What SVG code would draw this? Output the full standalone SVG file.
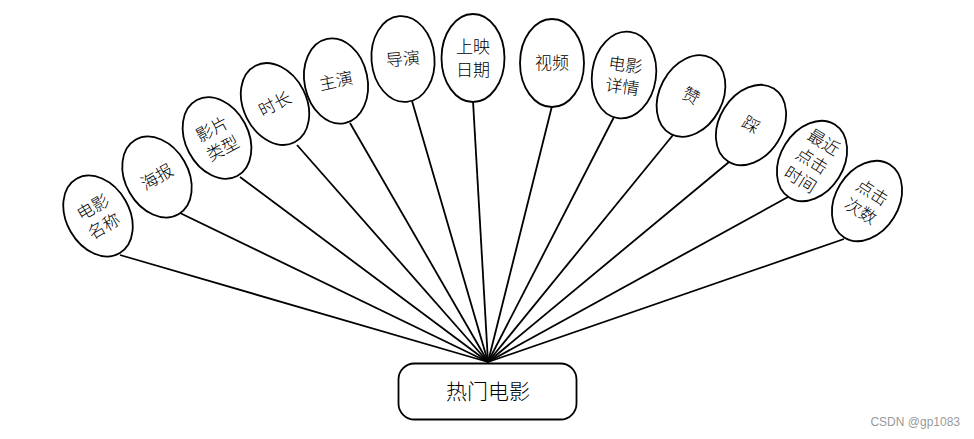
<svg xmlns="http://www.w3.org/2000/svg" width="974" height="439" viewBox="0 0 974 439">
<defs>
<style>
.n ellipse{fill:#fff;stroke:#000;stroke-width:1.8}
.n text,.hub text{font-family:"Noto Sans CJK SC","Noto Sans CJK JP",sans-serif;font-weight:300;font-size:17px;fill:#000;text-anchor:middle}
.c line{stroke:#000;stroke-width:1.8}
</style>
</defs>
<rect width="974" height="439" fill="#fff"/>
<g class="c" id="connectors">
<line x1="488" y1="362" x2="120" y2="255"/>
<line x1="488" y1="362" x2="180" y2="213"/>
<line x1="488" y1="362" x2="240" y2="177"/>
<line x1="488" y1="362" x2="297" y2="145"/>
<line x1="488" y1="362" x2="350" y2="123"/>
<line x1="488" y1="362" x2="412" y2="101"/>
<line x1="488" y1="362" x2="473" y2="101"/>
<line x1="488" y1="362" x2="552" y2="106"/>
<line x1="488" y1="362" x2="614" y2="117"/>
<line x1="488" y1="362" x2="673" y2="135"/>
<line x1="488" y1="362" x2="729" y2="162"/>
<line x1="488" y1="362" x2="788" y2="197"/>
<line x1="488" y1="362" x2="844" y2="239"/>
</g>
<g class="n" id="n1" transform="translate(98,216) rotate(-30)"><ellipse rx="31.5" ry="43"/><text y="-4">电影</text><text y="18">名称</text></g>
<g class="n" id="n2" transform="translate(157,177) rotate(-30)"><ellipse rx="31.5" ry="43"/><text y="6">海报</text></g>
<g class="n" id="n3" transform="translate(217,138) rotate(-28)"><ellipse rx="31.5" ry="43"/><text y="-4">影片</text><text y="18">类型</text></g>
<g class="n" id="n4" transform="translate(275,104) rotate(-27)"><ellipse rx="31.5" ry="43"/><text y="6">时长</text></g>
<g class="n" id="n5" transform="translate(336,81) rotate(-12)"><ellipse rx="31.5" ry="43"/><text y="6">主演</text></g>
<g class="n" id="n6" transform="translate(403,59) rotate(-5)"><ellipse rx="31.5" ry="43"/><text y="6">导演</text></g>
<g class="n" id="n7" transform="translate(473,58)"><ellipse rx="31.5" ry="44"/><text y="-5">上映</text><text y="18">日期</text></g>
<g class="n" id="n8" transform="translate(552,63)"><ellipse rx="32" ry="44"/><text y="6">视频</text></g>
<g class="n" id="n9" transform="translate(624,75) rotate(8)"><ellipse rx="32" ry="43.5"/><text y="-4">电影</text><text y="18">详情</text></g>
<g class="n" id="n10" transform="translate(691,96) rotate(28)"><ellipse rx="31.5" ry="43"/><text y="6">赞</text></g>
<g class="n" id="n11" transform="translate(751,125) rotate(32)"><ellipse rx="31.5" ry="43"/><text y="6">踩</text></g>
<g class="n" id="n12" transform="translate(812,161) rotate(32)"><ellipse rx="31.5" ry="43"/><text y="-16">最近</text><text y="6">点击</text><text y="28">时间</text></g>
<g class="n" id="n13" transform="translate(867,201) rotate(32)"><ellipse rx="31.5" ry="43"/><text y="-4">点击</text><text y="18">次数</text></g>
<g class="hub" id="hub"><rect x="398.5" y="363.5" width="178" height="56" rx="16" fill="#fff" stroke="#000" stroke-width="1.8"/><text x="488" y="399" style="font-size:21px">热门电影</text></g>
<text x="960" y="426" text-anchor="end" style="font-family:'Liberation Sans',sans-serif;font-size:12px;fill:#999">CSDN @gp1083</text>
</svg>
